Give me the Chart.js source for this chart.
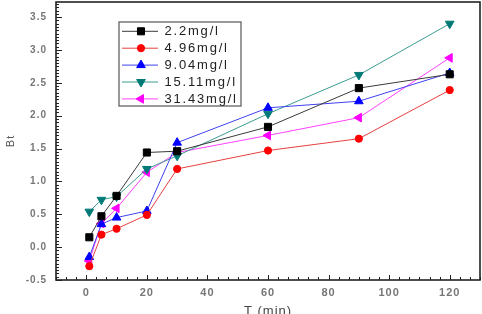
<!DOCTYPE html>
<html>
<head>
<meta charset="utf-8">
<script src="https://cdn.jsdelivr.net/npm/chart.js@4.4.0/dist/chart.umd.min.js"></script>
<style>
  html, body { margin: 0; padding: 0; background: #fff; }
  #wrap { width: 482px; height: 314px; }
</style>
</head>
<body>
<div id="wrap"><canvas id="chart"></canvas></div>
<script>
// Sampling times (min)
const times = [1, 5, 10, 20, 30, 60, 90, 120];

// Bt values per dose
const dose22 = [0.15, 0.47, 0.78, 1.44, 1.46, 1.83, 2.42, 2.63];
const dose496 = [-0.29, 0.19, 0.28, 0.49, 1.19, 1.47, 1.65, 2.39];
const dose904 = [-0.15, 0.35, 0.45, 0.55, 1.59, 2.12, 2.22, 2.65];
const dose1511 = [0.54, 0.72, 0.77, 1.19, 1.39, 2.03, 2.62, 3.40];
const dose3143 = [-0.21, 0.36, 0.59, 1.14, 1.44, 1.70, 1.97, 2.88];

const seriesLabels = ["2.2mg/l", "4.96mg/l", "9.04mg/l", "15.11mg/l", "31.43mg/l"];

// Tick labels
const xTicks = [0, 20, 40, 60, 80, 100, 120];
const yTicks = [-0.5, 0, 0.5, 1, 1.5, 2, 2.5, 3, 3.5];

const FONT = 'Arial, "Liberation Sans", sans-serif';

function pts(values) {
  return times.map((t, i) => ({ x: t, y: values[i] }));
}

function series(label, values, line, fill, style, radius, rotation) {
  return {
    label: label,
    data: pts(values),
    borderColor: line,
    backgroundColor: fill,
    pointBackgroundColor: fill,
    pointBorderColor: fill,
    borderWidth: 1,
    pointStyle: style,
    pointRadius: radius,
    pointRotation: rotation,
    pointBorderWidth: 1
  };
}

function noPad(s) {
  s.paddingTop = 0;
  s.paddingBottom = 0;
  s.paddingLeft = 0;
  s.paddingRight = 0;
}

// letter spacing gets reset whenever the canvas is resized
const spacing = {
  id: 'spacing',
  beforeUpdate(chart) { chart.ctx.letterSpacing = '1px'; },
  beforeDraw(chart) { chart.ctx.letterSpacing = '1px'; }
};

// Frame plus inward major/minor ticks
const frame = {
  id: 'frame',
  afterDraw(chart) {
    const { ctx, chartArea: a, scales: { x, y } } = chart;
    ctx.save();
    ctx.strokeStyle = '#222';
    ctx.lineWidth = 1.6;
    ctx.strokeRect(a.left, a.top, a.right - a.left, a.bottom - a.top);

    ctx.lineWidth = 1;
    ctx.beginPath();
    for (let i = -6; i < 60; i++) {
      const v = i * 20 / 6;
      if (v < x.min || v > x.max) continue;
      const px = Math.round(x.getPixelForValue(v)) + 0.5;
      const len = i % 6 === 0 ? 5 : 3;
      ctx.moveTo(px, a.bottom);
      ctx.lineTo(px, a.bottom - len);
    }
    for (let i = -10; i < 100; i++) {
      const v = i * 0.05;
      if (v < y.min || v > y.max) continue;
      const py = Math.round(y.getPixelForValue(v)) + 0.5;
      const len = i % 10 === 0 ? 6 : 3;
      ctx.moveTo(a.left, py);
      ctx.lineTo(a.left + len, py);
    }
    ctx.stroke();
    ctx.restore();
  }
};

// Boxed legend inside the plot
const boxLegend = {
  id: 'boxLegend',
  afterDraw(chart) {
    const ctx = chart.ctx;
    ctx.save();
    ctx.fillStyle = '#fff';
    ctx.fillRect(119, 22, 122, 84);
    ctx.strokeStyle = '#555';
    ctx.lineWidth = 1.2;
    ctx.strokeRect(119, 22, 122, 84);
    chart.data.datasets.forEach((ds, i) => {
      const cy = 31.3 + i * 16.9;
      ctx.strokeStyle = ds.borderColor;
      ctx.lineWidth = 1;
      ctx.beginPath();
      ctx.moveTo(122, cy);
      ctx.lineTo(158, cy);
      ctx.stroke();
      ctx.fillStyle = ds.pointBackgroundColor;
      ctx.strokeStyle = ds.pointBorderColor;
      Chart.helpers.drawPoint(ctx, {
        pointStyle: ds.pointStyle,
        radius: ds.pointRadius,
        rotation: ds.pointRotation,
        borderWidth: 1
      }, 141, cy);
      ctx.fillStyle = '#222';
      ctx.font = '13px ' + FONT;
      ctx.letterSpacing = '1.8px';
      ctx.textBaseline = 'middle';
      ctx.textAlign = 'left';
      ctx.fillText(ds.label, 164.5, cy + 0.5);
    });
    ctx.restore();
  }
};

new Chart(document.getElementById('chart'), {
  type: 'line',
  data: {
    datasets: [
      series(seriesLabels[0], dose22, '#3a3a3a', '#000000', 'rect', 5, 0),
      series(seriesLabels[1], dose496, '#e84040', '#ff0000', 'circle', 3.6, 0),
      series(seriesLabels[2], dose904, '#4040f0', '#0000ff', 'triangle', 5, 0),
      series(seriesLabels[3], dose1511, '#3a9c90', '#007a76', 'triangle', 5, 180),
      series(seriesLabels[4], dose3143, '#ff40ff', '#ff00ff', 'triangle', 5, 270)
    ]
  },
  options: {
    responsive: true,
    maintainAspectRatio: false,
    animation: false,
    layout: { autoPadding: false, padding: { top: 2, right: 2, left: 0, bottom: 0 } },
    plugins: { legend: { display: false }, tooltip: { enabled: false } },
    scales: {
      x: {
        type: 'linear',
        min: -10,
        max: 130,
        afterBuildTicks(s) { s.ticks = xTicks.map(v => ({ value: v })); },
        afterFit(s) { s.height = 34; noPad(s); },
        grid: { display: false, drawTicks: false },
        border: { display: false },
        ticks: {
          padding: 6,
          color: '#777',
          font: { family: FONT, size: 11, weight: 'bold' },
          maxRotation: 0,
          callback: v => String(v)
        },
        title: {
          display: true,
          text: 'T (min)',
          color: '#444',
          font: { family: FONT, size: 13 },
          padding: { top: 0, bottom: -5 }
        }
      },
      y: {
        type: 'linear',
        min: -0.5,
        max: 3.73,
        afterBuildTicks(s) { s.ticks = yTicks.map(v => ({ value: v })); },
        afterFit(s) { s.width = 56; noPad(s); },
        grid: { display: false, drawTicks: false },
        border: { display: false },
        ticks: {
          padding: 9,
          color: '#777',
          font: { family: FONT, size: 10, weight: 'bold' },
          callback: v => Number(v).toFixed(1)
        },
        title: {
          display: true,
          text: 'Bt',
          color: '#555',
          font: { family: FONT, size: 11 },
          padding: { top: 4, bottom: 0 }
        }
      }
    }
  },
  plugins: [spacing, frame, boxLegend]
});
</script>
</body>
</html>
